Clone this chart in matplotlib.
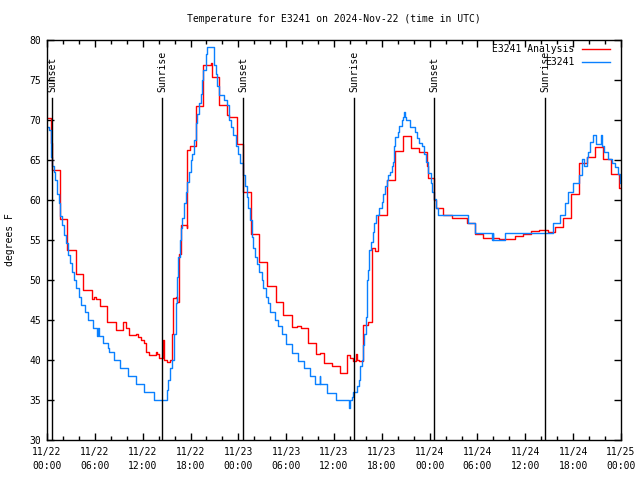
import matplotlib
matplotlib.use("Agg")
import matplotlib.pyplot as plt
from matplotlib.lines import Line2D
from matplotlib.ticker import MultipleLocator

# hours since 2024-11-22 00:00 UTC
analysis_h = [0.0, 0.54, 0.67, 1.59, 2.55, 3.60, 4.56, 5.69, 5.90, 6.20, 6.65, 7.57, 8.61,
              9.58, 9.85, 10.29, 11.12, 11.40, 11.75, 12.17, 12.38, 12.80, 13.63, 13.75,
              14.05, 14.60, 14.70, 15.09, 15.43, 15.64, 15.85, 16.14, 16.30, 16.56, 16.77,
              17.52, 17.60, 17.90, 18.65, 19.61, 20.53, 20.66, 21.58, 22.62, 22.80, 23.79,
              24.63, 25.59, 26.63, 27.64, 28.68, 29.65, 30.69, 31.30, 31.80, 32.70, 33.70,
              34.20, 34.75, 35.70, 36.75, 37.67, 38.00, 38.40, 38.77, 38.90, 39.14, 39.68,
              40.30, 40.73, 41.20, 41.56, 42.60, 43.65, 44.70, 45.66, 46.70, 47.62, 47.71,
              47.84, 48.59, 48.75, 49.71, 50.76, 52.64, 53.69, 54.73, 56.70, 58.70, 59.73,
              60.71, 61.72, 62.80, 63.72, 64.77, 65.73, 66.73, 67.70, 68.74, 69.79, 70.75,
              71.80, 72.0]
analysis_t = [70.3, 67.1, 63.8, 57.6, 53.7, 50.8, 48.75, 47.6, 47.9, 47.6, 46.7, 44.8, 43.8,
              44.7, 44.0, 43.1, 43.3, 42.9, 42.5, 42.1, 41.0, 40.6, 41.0, 40.8,
              40.2, 42.5, 40.0, 39.7, 40.0, 43.3, 47.7, 47.9, 47.2, 53.3, 56.9,
              56.5, 66.25, 66.7, 71.7, 76.9, 77.1, 75.4, 71.9, 70.6, 70.4, 67.0,
              61.0, 55.8, 52.3, 49.2, 47.2, 45.6, 44.1, 44.3, 44.0, 42.1, 40.8,
              40.9, 39.6, 39.25, 38.4, 40.6, 40.2, 39.9, 40.8, 40.0, 39.9, 44.4,
              44.8, 54.0, 53.6, 58.1, 62.5, 66.1, 68.0, 66.5, 66.0, 64.6, 64.2,
              62.7, 60.0, 59.0, 58.1, 57.7, 57.1, 55.8, 55.2, 55.1, 55.5, 55.8,
              56.1, 56.2, 56.0, 56.6, 57.8, 60.75, 64.6, 65.4, 66.6, 65.1, 63.3,
              61.5, 61.5]

obs_h = [0.0, 0.21, 0.46, 0.54, 0.67, 0.88, 1.00, 1.21, 1.51, 1.63, 1.92, 2.13, 2.43, 2.63,
         2.88, 3.18, 3.40, 3.60, 4.01, 4.22, 4.72, 5.18, 5.81, 6.31, 6.40, 6.48, 7.07, 7.69,
         7.82, 8.40, 9.16, 10.16, 11.12, 12.17, 13.42, 15.01, 15.18, 15.43, 15.72, 15.93,
         16.14, 16.27, 16.48, 16.69, 16.85, 16.98, 17.18, 17.39, 17.60, 17.81, 18.02, 18.23,
         18.44, 18.65, 18.86, 19.07, 19.28, 19.49, 19.61, 19.90, 20.11, 20.95, 21.16, 21.28,
         21.58, 22.20, 22.62, 22.83, 23.04, 23.37, 23.71, 23.99, 24.21, 24.54, 24.84, 25.05,
         25.26, 25.46, 25.67, 25.88, 26.09, 26.30, 26.59, 26.93, 27.14, 27.43, 27.68, 27.97,
         28.60, 29.02, 29.44, 29.98, 30.69, 31.53, 32.24, 32.99, 33.62, 34.20, 34.28, 35.17,
         36.25, 37.93, 38.00, 38.22, 38.43, 38.85, 39.10, 39.26, 39.47, 39.68, 39.80, 40.02,
         40.18, 40.31, 40.43, 40.60, 40.85, 41.06, 41.27, 41.69, 41.98, 42.18, 42.39, 42.60,
         42.81, 43.02, 43.23, 43.44, 43.57, 43.69, 43.99, 44.20, 44.49, 44.70, 44.78, 44.85,
         45.04, 45.54, 46.17, 46.37, 46.71, 47.00, 47.29, 47.55, 47.84, 48.17, 48.34, 48.59,
         48.80, 49.09, 52.85, 53.69, 55.78, 55.90, 55.95, 57.45, 63.51, 64.35, 64.98, 65.31,
         66.02, 66.73, 67.07, 67.40, 67.69, 67.90, 68.11, 68.53, 68.82, 69.45, 69.57, 69.91,
         70.33, 70.83, 71.25, 71.59, 71.88, 72.0]
obs_t = [69.1, 68.75, 66.7, 65.4, 64.2, 63.5, 62.5, 60.75, 59.6, 58.0, 56.9, 55.6, 54.6, 53.1,
         52.1, 51.0, 50.0, 49.0, 47.9, 46.9, 46.0, 45.0, 44.0, 43.0, 44.0, 43.0, 42.1, 41.5,
         41.0, 40.0, 39.0, 38.0, 37.0, 36.0, 35.0, 36.25, 37.5, 39.0, 40.0, 43.3,
         47.1, 50.4, 52.9, 55.0, 56.5, 57.7, 59.6, 61.0, 62.3, 63.5, 65.0, 65.8,
         67.5, 69.6, 70.75, 72.1, 73.3, 75.0, 76.25, 78.3, 79.1, 76.9, 75.8, 74.2,
         73.1, 72.5, 71.9, 70.0, 69.1, 68.1, 66.75, 65.8, 64.6, 63.1, 61.7, 60.4,
         59.0, 57.5, 55.4, 54.0, 52.9, 52.0, 51.0, 50.0, 49.0, 47.9, 47.1, 46.0,
         45.0, 44.2, 43.3, 42.0, 40.9, 39.9, 39.0, 38.0, 37.0, 38.0, 37.0, 35.9,
         35.0, 34.0, 35.0, 35.4, 36.0, 36.7, 37.5, 39.2, 40.0, 41.9, 43.3, 45.4,
         50.0, 51.25, 53.75, 54.8, 56.0, 57.1, 58.1, 59.0, 59.8, 60.8, 61.7, 62.5,
         63.1, 63.5, 64.2, 64.8, 66.7, 67.9, 68.5, 69.2, 70.0, 70.4, 71.0, 70.4,
         70.0, 69.1, 68.5, 67.7, 67.1, 66.75, 65.8, 64.8, 63.4, 62.1, 61.0, 60.1,
         59.0, 58.1, 57.1, 55.9, 55.0, 55.9, 55.0, 55.9, 57.1, 58.1, 59.6, 61.0,
         62.1, 63.1, 65.1, 64.2, 65.4, 66.0, 67.2, 68.1, 67.0, 68.1, 66.75, 66.0,
         65.1, 64.6, 64.1, 63.3, 62.1, 62.1]

sun_h = [0.63, 14.43, 24.59, 38.50, 48.55, 62.47]
sun_labels = ["Sunset", "Sunrise", "Sunset", "Sunrise", "Sunset", "Sunrise"]

xtick_h = [0, 6, 12, 18, 24, 30, 36, 42, 48, 54, 60, 66, 72]
xtick_labels = ["11/22\n00:00", "11/22\n06:00", "11/22\n12:00", "11/22\n18:00",
                "11/23\n00:00", "11/23\n06:00", "11/23\n12:00", "11/23\n18:00",
                "11/24\n00:00", "11/24\n06:00", "11/24\n12:00", "11/24\n18:00",
                "11/25\n00:00"]

red = "#ff0000"
blue = "#0a80ff"
font = "DejaVu Sans Mono"
fs = 7

plt.rcParams["font.family"] = font
plt.rcParams["font.size"] = fs

fig = plt.figure(figsize=(6.4, 4.8), dpi=100)
ax = fig.add_axes([47 / 640, 40 / 480, 574 / 640, 400 / 480])

ax.plot(analysis_h, analysis_t, drawstyle="steps-post", color=red, lw=1.0)
ax.plot(obs_h, obs_t, drawstyle="steps-post", color=blue, lw=1.0)

# sunrise / sunset markers
for h, lab in zip(sun_h, sun_labels):
    ax.plot([h, h], [0, 0.855], color="black", lw=1.0,
            transform=ax.get_xaxis_transform())
    ax.text(h, 0.87, lab, rotation=90, ha="center", va="bottom",
            transform=ax.get_xaxis_transform(), fontsize=fs)

ax.set_xlim(0, 72)
ax.set_ylim(30, 80)
ax.set_xticks(xtick_h)
ax.set_xticklabels(xtick_labels, linespacing=1.5)
ax.xaxis.set_minor_locator(MultipleLocator(2))
ax.yaxis.set_major_locator(MultipleLocator(5))
ax.tick_params(which="both", direction="in", top=True, right=True, width=1.0)
ax.tick_params(which="major", length=5)
ax.tick_params(which="minor", length=3)
ax.tick_params(axis="x", pad=5)
ax.tick_params(axis="y", pad=4)
for s in ax.spines.values():
    s.set_linewidth(1.0)

fig.text(334 / 640, 1 - 19 / 480, "Temperature for E3241 on 2024-Nov-22 (time in UTC)",
         ha="center", va="center", fontsize=fs)
fig.text(10 / 640, 0.5, "degrees F", rotation=90, ha="center", va="center", fontsize=fs)

handles = [Line2D([], [], color=red, lw=1.0), Line2D([], [], color=blue, lw=1.0)]
fig.legend(handles, ["E3241 Analysis", "E3241"], loc="upper right",
           bbox_to_anchor=(610 / 640, 1 - 44 / 480), frameon=False, markerfirst=False,
           handlelength=2.9, handletextpad=0.8, labelspacing=0.35, borderpad=0,
           borderaxespad=0, fontsize=fs)

fig.savefig("out.png", dpi=100)
